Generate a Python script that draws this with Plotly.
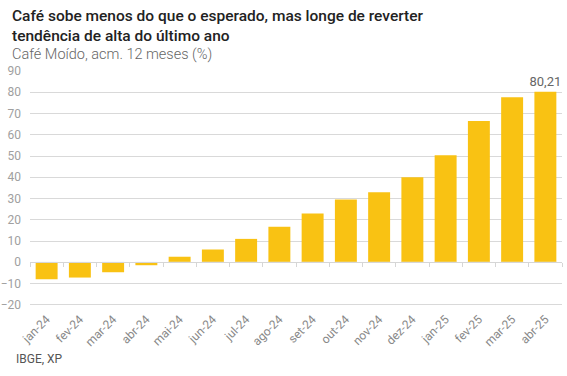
import plotly.graph_objects as go

categories = ["jan-24", "fev-24", "mar-24", "abr-24", "mai-24", "jun-24", "jul-24", "ago-24",
              "set-24", "out-24", "nov-24", "dez-24", "jan-25", "fev-25", "mar-25", "abr-25"]
values = [-8.0, -7.2, -4.7, -1.4, 2.6, 6.0, 11.0, 16.7, 23.0, 29.5, 33.0, 40.0, 50.3, 66.5, 77.6, 80.21]
labels = ["" for _ in values[:-1]] + ["80,21"]
y_ticks = [-20, -10, 0, 10, 20, 30, 40, 50, 60, 70, 80, 90]

Y_MIN, Y_MAX = -22, 90
W, H = 567, 376
ML, MR, MT, MB = 30, 5, 71, 67
pw = W - ML - MR
ph = H - MT - MB

fig = go.Figure()
fig.add_trace(go.Bar(
    x=categories, y=values, marker_color="#F9C213", marker_line_width=0,
    text=labels, textposition="outside", cliponaxis=False, constraintext="none",
    textfont=dict(family="Roboto", size=13, color="#666666"),
))
# invisible trace to carry boundary ticks on the zero line
fig.add_trace(go.Bar(x=categories, y=[0] * len(categories), xaxis="x2", showlegend=False,
                     hoverinfo="skip", marker_color="rgba(0,0,0,0)"))

zero_pos = (0 - Y_MIN) / (Y_MAX - Y_MIN)

def py(px_from_top):
    """paper y for a pixel row measured from the top of the figure"""
    return (H - MB - px_from_top) / ph

fig.update_layout(
    width=W, height=H,
    margin=dict(l=ML, r=MR, t=MT, b=MB, autoexpand=False),
    paper_bgcolor="white", plot_bgcolor="white",
    showlegend=False, bargap=0.34,
    separators=",.",
    font=dict(family="Roboto", color="#888888"),
    xaxis=dict(
        showgrid=False, showline=False, ticks="", tickangle=-45, automargin=False,
        tickfont=dict(family="Roboto", size=12, color="#888888"),
    ),
    xaxis2=dict(
        overlaying="x", anchor="free", position=zero_pos, side="bottom", automargin=False,
        matches="x", showticklabels=False, showgrid=False,
        showline=True, linecolor="#d6d6d6", linewidth=1,
        ticks="outside", ticklen=4, tickcolor="#d6d6d6", tickson="boundaries",
    ),
    yaxis=dict(
        range=[Y_MIN, Y_MAX], tickvals=y_ticks, showgrid=True, gridcolor="#d9d9d9",
        gridwidth=1, zeroline=False, showline=False, automargin=False,
        tickfont=dict(family="Roboto", size=12, color="#a0a0a0"),
        ticklabelstandoff=8,
    ),
    annotations=[
        dict(text="Café sobe menos do que o esperado, mas longe de reverter<br>tendência de alta do último ano",
             xref="paper", yref="paper", x=-20 / pw, y=py(5), xanchor="left", yanchor="top",
             align="left", showarrow=False,
             font=dict(family="Roboto", size=15.5, color="#222222", weight=500)),
        dict(text="Café Moído, acm. 12 meses (%)", xref="paper", yref="paper",
             x=-20 / pw, y=py(44), xanchor="left", yanchor="top",
             showarrow=False, font=dict(family="Roboto", size=14.5, color="#666666", weight=300)),
        dict(text="IBGE, XP", xref="paper", yref="paper",
             x=-16 / pw, y=py(359), xanchor="left", yanchor="middle",
             showarrow=False, font=dict(family="Roboto", size=12, color="#555555")),
    ],
)

fig.write_html("out.html", config={"displayModeBar": False},
               post_script="document.body.style.margin='0';")
